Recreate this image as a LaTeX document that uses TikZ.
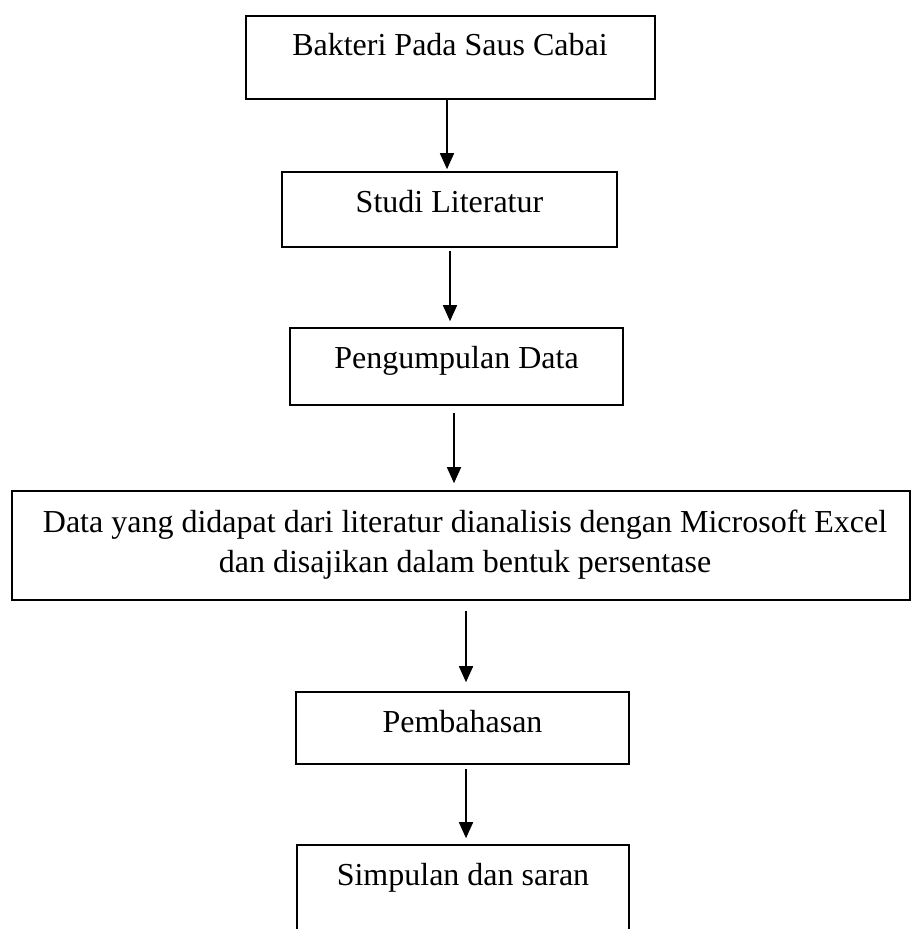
\documentclass[tikz,border=0pt]{standalone}
\usepackage{fontspec}
\setmainfont{Liberation Serif}
\usetikzlibrary{arrows.meta}
\begin{document}
\begin{tikzpicture}[x=1pt,y=-1pt,
  boxstyle/.style={draw=black,line width=1.6pt,rectangle,inner sep=0pt},
  txt/.style={font=\fontsize{32}{40}\selectfont,anchor=base,inner sep=0pt},
  arr/.style={line width=1.6pt,-{Triangle[width=14pt,length=16pt]}}]
\useasboundingbox (0,0) rectangle (911,929);
\node[boxstyle,minimum width=409pt,minimum height=83pt] (b1) at (450.5,57.5) {};
\node[boxstyle,minimum width=335pt,minimum height=75pt] (b2) at (449.5,209.5) {};
\node[boxstyle,minimum width=333pt,minimum height=77pt] (b3) at (456.5,366.5) {};
\node[boxstyle,minimum width=898pt,minimum height=109pt] (b4) at (461,545.5) {};
\node[boxstyle,minimum width=333pt,minimum height=72pt] (b5) at (462.5,728) {};
\node[boxstyle,minimum width=332pt,minimum height=115pt] (b6) at (463,902.5) {};
\node[txt] (t1) at (450,55) {Bakteri Pada Saus Cabai};
\node[txt] (t2) at (449.5,212) {Studi Literatur};
\node[txt] (t3) at (456.5,368) {Pengumpulan Data};
\node[txt] (t4a) at (465,532) {Data yang didapat dari literatur dianalisis dengan Microsoft Excel};
\node[txt] (t4b) at (465,572) {dan disajikan dalam bentuk persentase};
\node[txt] (t5) at (462.5,732) {Pembahasan};
\node[txt] (t6) at (463,885) {Simpulan dan saran};
\draw[arr] ([xshift=-3.5pt]b1.south) -- ([xshift=-2.5pt,yshift=2pt]b2.north);
\draw[arr] ([xshift=0.5pt,yshift=-3pt]b2.south) -- ([xshift=-6.5pt,yshift=6pt]b3.north);
\draw[arr] ([xshift=-2.5pt,yshift=-7pt]b3.south) -- ([xshift=-7pt,yshift=7pt]b4.north);
\draw[arr] ([xshift=5pt,yshift=-10pt]b4.south) -- ([xshift=3.5pt,yshift=9pt]b5.north);
\draw[arr] ([xshift=3.5pt,yshift=-4pt]b5.south) -- ([xshift=3pt,yshift=6pt]b6.north);
\end{tikzpicture}
\end{document}
